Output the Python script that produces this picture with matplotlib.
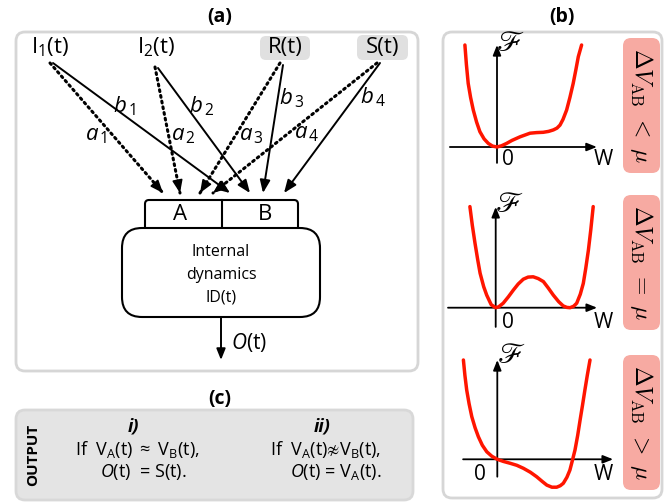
import matplotlib
matplotlib.use("Agg")
import matplotlib.pyplot as plt
from matplotlib.patches import FancyBboxPatch

plt.rcParams["font.family"] = ["Open Sans", "DejaVu Sans"]
plt.rcParams["mathtext.fontset"] = "custom"
plt.rcParams["mathtext.rm"] = "Open Sans"
plt.rcParams["mathtext.it"] = "Open Sans:italic"
plt.rcParams["mathtext.bf"] = "Open Sans:bold"
plt.rcParams["mathtext.fallback"] = "stixsans"

W_PX, H_PX = 664, 504
SCALE = 30  # px per unit in the (b) potentials

# (a) inputs and weights
inputs = ["I$_1$(t)", "I$_2$(t)", "R(t)", "S(t)"]
boxed_inputs = [False, False, True, True]
a_labels = [r"$a_{\,1}$", r"$a_{\,2}$", r"$a_{\,3}$", r"$a_{\,4}$"]
b_labels = [r"$b_{\,1}$", r"$b_{\,2}$", r"$b_{\,3}$", r"$b_{\,4}$"]
internal_text = "Internal\ndynamics\nID(t)"

# (b) free-energy curves, W vs F
w_lt = [-1.07, -1.02, -0.96, -0.88, -0.79, -0.68, -0.57, -0.43, -0.29, -0.15, 0.0, 0.15,
        0.32, 0.5, 0.77, 1.1, 1.32, 1.54, 1.72, 1.88, 2.0, 2.1, 2.2, 2.32, 2.43, 2.54,
        2.63, 2.71, 2.82]
f_lt = [3.4, 2.75, 2.12, 1.65, 1.23, 0.83, 0.51, 0.27, 0.12, 0.03, 0.0, 0.04,
        0.12, 0.22, 0.34, 0.46, 0.48, 0.49, 0.52, 0.57, 0.63, 0.73, 0.92, 1.23, 1.65, 2.12,
        2.58, 3.01, 3.4]
w_eq = [-0.86, -0.78, -0.69, -0.6, -0.52, -0.4, -0.3, -0.15, 0.0, 0.1, 0.25, 0.42, 0.59,
        0.75, 0.92, 1.08, 1.25, 1.42, 1.59, 1.75, 1.92, 2.1, 2.25, 2.37, 2.48, 2.6, 2.7,
        2.82, 2.92, 3.0, 3.09, 3.17, 3.25]
f_eq = [3.37, 2.75, 2.15, 1.6, 1.15, 0.7, 0.42, 0.1, 0.0, 0.03, 0.15, 0.36, 0.59,
        0.79, 0.95, 1.02, 1.03, 0.97, 0.87, 0.66, 0.42, 0.2, 0.06, 0.01, 0.0, 0.05, 0.15,
        0.45, 0.81, 1.3, 1.92, 2.6, 3.37]
w_gt = [-1.13, -1.08, -1.02, -0.94, -0.85, -0.74, -0.63, -0.5, -0.35, -0.18, 0.0, 0.2,
        0.42, 0.65, 0.87, 1.1, 1.31, 1.5, 1.65, 1.82, 1.98, 2.1, 2.2, 2.32, 2.42, 2.5,
        2.59, 2.68, 2.76, 2.84, 2.92, 3.0, 3.09]
f_gt = [3.31, 2.8, 2.31, 1.85, 1.42, 1.05, 0.75, 0.47, 0.25, 0.1, 0.0, -0.07,
        -0.13, -0.2, -0.3, -0.43, -0.58, -0.74, -0.86, -0.93, -0.93, -0.88, -0.8, -0.6, -0.36, -0.05,
        0.31, 0.8, 1.31, 1.8, 2.31, 2.8, 3.31]
conditions = [r"$\Delta V_{\rm AB}\ <\ \mu$", r"$\Delta V_{\rm AB}\ =\ \mu$", r"$\Delta V_{\rm AB}\ >\ \mu$"]

# (c) output rules
rule_tags = ["i)", "ii)"]
rule_if = [r"If  V$_\mathrm{A}$(t) $\approx$ V$_\mathrm{B}$(t),",
           "If  V$_\\mathrm{A}$(t)$\u2249$V$_\\mathrm{B}$(t),"]
rule_out = ["$O$(t)  = S(t).", "$O$(t) = V$_\\mathrm{A}$(t)."]

fig = plt.figure(figsize=(W_PX / 100, H_PX / 100), dpi=100)
ax = fig.add_axes([0, 0, 1, 1])
ax.set_xlim(0, W_PX)
ax.set_ylim(H_PX, 0)
ax.axis("off")


def rbox(x0, y0, x1, y1, r, fc="white", ec="#d6d6d6", lw=2.0, z=1):
    p = FancyBboxPatch((x0, y0), x1 - x0, y1 - y0,
                       boxstyle=f"round,pad=0,rounding_size={r}",
                       fc=fc, ec=ec, lw=lw, zorder=z)
    ax.add_patch(p)


# panel frames
rbox(16, 32, 418, 371, 9)
rbox(443, 32, 662, 498, 9)
rbox(16, 410, 413, 500, 9, fc="#e4e4e4", ec="#d8d8d8")
ax.text(220, 17, "(a)", ha="center", va="center", fontsize=14, fontweight="bold")
ax.text(562, 17, "(b)", ha="center", va="center", fontsize=14, fontweight="bold")
ax.text(220, 399, "(c)", ha="center", va="center", fontsize=14, fontweight="bold")

# ---- (a) ----
in_x = [50, 156, 285, 383]
in_box = [None, None, (260, 36, 310, 60), (357, 35, 408, 60)]
for name, boxed, x, bb in zip(inputs, boxed_inputs, in_x, in_box):
    if boxed:
        rbox(*bb, 6, fc="#e0e0e0", ec="none", lw=0, z=2)
    ax.text(x, 47, name, ha="center", va="center", fontsize=16, zorder=3)

a_start = [(50, 63), (155, 67), (280, 63), (377, 63)]
a_end = [(163, 193), (180, 193), (200, 193), (213, 193)]
b_start = [(53, 63), (158, 68), (283, 65), (380, 63)]
b_end = [(230, 193), (250, 193), (263, 193), (284, 193)]
a_pos = [(96, 140), (183, 140), (251, 140), (307, 138)]
b_pos = [(124, 112), (202, 112), (292, 104), (373, 103)]
head = "-|>,head_length=0.55,head_width=0.22"

for s, e in zip(b_start, b_end):
    ax.annotate("", xy=e, xytext=s,
                arrowprops=dict(arrowstyle=head, lw=1.4, color="k",
                                shrinkA=0, shrinkB=0, mutation_scale=14))
for s, e in zip(a_start, a_end):
    ax.plot([s[0], e[0]], [s[1], e[1]], color="k", lw=2.2,
            ls=(0, (0.6, 1.3)), dash_capstyle="round")
    t = 0.93
    mid = (s[0] + (e[0] - s[0]) * t, s[1] + (e[1] - s[1]) * t)
    ax.annotate("", xy=e, xytext=mid,
                arrowprops=dict(arrowstyle=head, lw=1.2, color="k",
                                shrinkA=0, shrinkB=0, mutation_scale=14))
for lab, p in zip(a_labels, a_pos):
    ax.text(p[0], p[1], lab, ha="center", va="baseline", fontsize=16)
for lab, p in zip(b_labels, b_pos):
    ax.text(p[0], p[1], lab, ha="center", va="baseline", fontsize=16)

rbox(145, 200, 298, 232, 4, ec="k", lw=1.5, z=3)
ax.plot([222, 222], [200, 228], color="k", lw=1.5, zorder=4)
ax.text(180, 215, "A", ha="center", va="center", fontsize=16, zorder=5)
ax.text(265, 215, "B", ha="center", va="center", fontsize=16, zorder=5)
rbox(122, 228, 320, 317, 20, ec="k", lw=1.5, z=4)
ax.text(221, 275, internal_text, ha="center", va="center", fontsize=11.5,
        linespacing=1.55, zorder=5)
ax.annotate("", xy=(221, 360), xytext=(221, 317),
            arrowprops=dict(arrowstyle=head, lw=1.4, color="k",
                            shrinkA=0, shrinkB=0, mutation_scale=12))
ax.text(231, 342, "$O$(t)", ha="left", va="center", fontsize=15)

# ---- (b) ----
curves = [(w_lt, f_lt), (w_eq, f_eq), (w_gt, f_gt)]
origins = [(497, 147), (495.7, 307.7), (497.3, 459.3)]
frames = [(447, 620, 30, 180), (447, 620, 195, 335), (447, 620, 350, 495)]
h_span = [(-1.57, 3.33), (-1.59, 3.38), (-1.14, 3.86)]
v_span = [(-0.53, 3.4), (-0.64, 3.36), (-0.58, 3.31)]
zero_pos = [(0.37, -0.43), (0.41, -0.51), (-0.58, -0.52)]
w_pos = [(3.53, -0.43), (3.58, -0.51), (3.52, -0.52)]
pills = [(623, 38, 660, 173), (623, 195, 660, 330), (623, 355, 660, 490)]

for (w, f), (ox, oy), (x0, x1, y0, y1), hs, vs, zp, wp, pill, cond in zip(
        curves, origins, frames, h_span, v_span, zero_pos, w_pos, pills, conditions):
    iax = fig.add_axes([x0 / W_PX, 1 - y1 / H_PX, (x1 - x0) / W_PX, (y1 - y0) / H_PX])
    iax.set_xlim((x0 - ox) / SCALE, (x1 - ox) / SCALE)
    iax.set_ylim((oy - y1) / SCALE, (oy - y0) / SCALE)
    iax.axis("off")
    iax.annotate("", xy=(hs[1], 0), xytext=(hs[0], 0),
                 arrowprops=dict(arrowstyle="-|>,head_length=0.5,head_width=0.2",
                                 lw=1.3, color="k", shrinkA=0, shrinkB=0,
                                 mutation_scale=12))
    iax.annotate("", xy=(0, vs[1]), xytext=(0, vs[0]),
                 arrowprops=dict(arrowstyle="-|>,head_length=0.5,head_width=0.2",
                                 lw=1.3, color="k", shrinkA=0, shrinkB=0,
                                 mutation_scale=12))
    iax.plot(w, f, color="#ff1500", lw=2.5, solid_joinstyle="round",
             solid_capstyle="round", zorder=3)
    iax.text(0.45, 3.45, r"$\mathscr{F}$", math_fontfamily="stix", fontsize=21,
             ha="center", va="center")
    iax.text(zp[0], zp[1], "0", ha="center", va="center", fontsize=15)
    iax.text(wp[0], wp[1], "W", ha="center", va="center", fontsize=15)

    rbox(*pill, 8, fc="#f7aaa2", ec="none", lw=0, z=2)
    ax.text((pill[0] + pill[2]) / 2, (pill[1] + pill[3]) / 2, cond,
            math_fontfamily="cm", fontsize=17, rotation=-90,
            ha="center", va="center", zorder=3)

# ---- (c) ----
ax.text(33, 455, "OUTPUT", rotation=90, ha="center", va="center",
        fontsize=11, fontweight="bold")
tag_x = [133, 322]
if_x = [75, 270]
out_x = [100, 290]
for tag, tx, cond, cx, out, ox_ in zip(rule_tags, tag_x, rule_if, if_x, rule_out, out_x):
    ax.text(tx, 427, tag, ha="center", va="center", fontsize=13,
            fontweight="bold", fontstyle="italic")
    ax.text(cx, 449, cond, ha="left", va="center", fontsize=13)
    ax.text(ox_, 472, out, ha="left", va="center", fontsize=13)

fig.savefig("out.png", dpi=100)
